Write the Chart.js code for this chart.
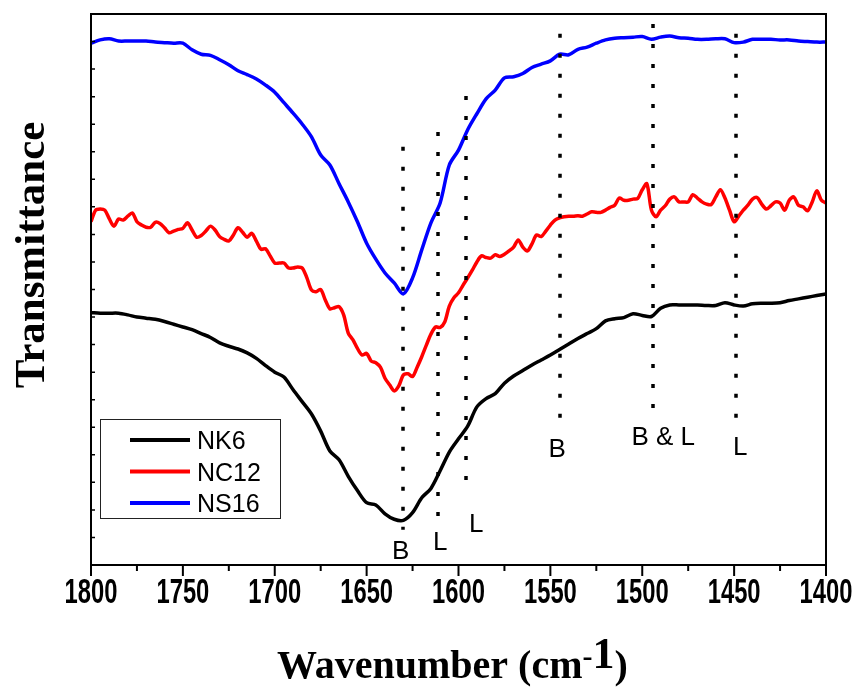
<!DOCTYPE html>
<html><head><meta charset="utf-8">
<script src="https://cdn.jsdelivr.net/npm/chart.js@4.4.0/dist/chart.umd.min.js"></script>
<style>html,body{margin:0;padding:0;background:#fff;}#wrap{width:861px;height:689px;}</style>
</head><body><div id="wrap"><canvas id="c" width="861" height="689"></canvas></div>
<script>
// ---- data (wavenumber in cm-1, transmittance in arbitrary units 0-100) ----
const wavenumbers = [1800,1795,1790,1785,1780,1775,1770,1765,1760,1755,1750,1745,1740,1735,1730,1725,1720,1715,1710,1705,1700,1695,1690,1685,1680,1675,1670,1665,1660,1655,1650,1645,1640,1635,1630,1625,1620,1615,1610,1605,1600,1595,1590,1585,1580,1575,1570,1565,1560,1555,1550,1545,1540,1535,1530,1525,1520,1515,1510,1505,1500,1495,1490,1485,1480,1475,1470,1465,1460,1455,1450,1445,1440,1435,1430,1425,1420,1415,1410,1405,1400];
const wavenumbersNC12 = [1800,1797.5,1795,1792.5,1790,1787.5,1785,1782.5,1780,1777.5,1775,1772.5,1770,1767.5,1765,1762.5,1760,1757.5,1755,1752.5,1750,1747.5,1745,1742.5,1740,1737.5,1735,1732.5,1730,1727.5,1725,1722.5,1720,1717.5,1715,1712.5,1710,1707.5,1705,1702.5,1700,1697.5,1695,1692.5,1690,1687.5,1685,1682.5,1680,1677.5,1675,1672.5,1670,1667.5,1665,1662.5,1660,1657.5,1655,1652.5,1650,1647.5,1645,1642.5,1640,1637.5,1635,1632.5,1630,1627.5,1625,1622.5,1620,1617.5,1615,1612.5,1610,1607.5,1605,1602.5,1600,1597.5,1595,1592.5,1590,1587.5,1585,1582.5,1580,1577.5,1575,1572.5,1570,1567.5,1565,1562.5,1560,1557.5,1555,1552.5,1550,1547.5,1545,1542.5,1540,1537.5,1535,1532.5,1530,1527.5,1525,1522.5,1520,1517.5,1515,1512.5,1510,1507.5,1505,1502.5,1500,1497.5,1495,1492.5,1490,1487.5,1485,1482.5,1480,1477.5,1475,1472.5,1470,1467.5,1465,1462.5,1460,1457.5,1455,1452.5,1450,1447.5,1445,1442.5,1440,1437.5,1435,1432.5,1430,1427.5,1425,1422.5,1420,1417.5,1415,1412.5,1410,1407.5,1405,1402.5,1400];
const nk6 = [45.8,45.7,45.7,45.7,45.4,45.0,44.8,44.6,44.2,43.7,
  43.2,42.7,42.0,41.3,40.3,39.7,39.2,38.5,37.5,36.2,
  35.0,34.1,31.8,29.6,27.4,24.3,20.7,19.1,16.1,13.5,
  11.3,10.9,9.3,8.3,8.1,9.5,12.2,13.9,17.1,20.5,
  22.9,25.2,28.7,30.2,31.1,33.0,34.3,35.3,36.3,37.2,
  38.1,39.1,40.1,41.1,42.0,42.9,44.3,44.7,44.9,45.6,
  45.3,45.1,46.6,47.2,47.2,47.2,47.2,47.1,47.1,47.6,
  47.2,47.0,47.4,47.5,47.5,47.6,48.0,48.3,48.6,48.9,
  49.2];
const nc12 = [62.3,64.4,64.6,64.4,62.8,61.5,62.8,62.6,63.3,63.9,
  62.3,61.7,61.3,61.3,62.2,62.0,61.2,60.3,60.6,60.9,
  61.1,62.1,60.8,59.5,59.8,60.6,61.5,60.8,59.6,59.1,
  58.8,59.9,61.2,60.4,59.5,60.2,58.8,57.3,57.4,56.1,
  54.8,54.8,54.8,53.9,53.9,54.1,53.9,52.1,49.9,49.6,
  50.0,48.1,46.5,46.7,46.9,45.4,42.1,40.9,39.3,38.1,
  38.4,37.0,36.7,35.9,33.9,32.7,31.6,32.5,34.5,34.7,
  34.2,35.9,37.8,39.9,41.9,43.2,43.1,44.1,47.0,48.5,
  49.4,50.8,52.1,53.5,55.0,56.1,55.8,55.7,56.3,56.0,
  56.4,57.0,57.7,59.0,57.7,57.0,58.3,59.9,59.6,60.6,
  61.7,62.6,63.0,63.2,63.3,63.3,63.4,63.3,63.7,64.1,
  64.0,64.0,64.4,64.9,65.3,66.6,66.2,66.2,66.4,66.5,
  68.1,69.2,64.4,63.2,64.4,65.2,66.4,66.8,65.9,65.9,
  65.9,67.2,66.6,65.9,65.5,65.4,66.8,68.1,66.6,64.4,
  62.3,63.3,64.4,65.3,66.4,66.7,65.5,64.6,65.2,65.9,
  65.7,64.4,66.2,66.8,65.3,65.0,64.3,65.9,67.9,66.2,
  65.7];
const ns16 = [94.7,95.3,95.5,95.1,95.1,95.1,95.1,94.9,94.8,94.7,
  94.7,93.5,92.7,92.5,91.7,90.8,89.7,89.0,88.2,87.1,
  85.8,83.9,82.0,80.0,77.7,74.4,72.6,69.2,65.9,62.3,
  58.4,55.5,53.0,51.2,49.2,52.1,57.2,62.1,65.7,72.6,
  75.3,79.0,81.9,84.6,86.2,88.4,88.6,89.2,90.3,90.9,
  91.5,92.7,92.6,93.6,94.0,94.7,95.3,95.6,95.7,95.8,
  95.9,95.4,95.8,96.0,95.7,95.6,95.4,95.4,95.5,95.5,
  94.8,94.9,95.4,95.4,95.4,95.3,95.3,95.1,95.0,94.9,
  94.9];
const seriesNames = ['NK6','NC12','NS16'];
const seriesColors = ['#000000','#ff0000','#0000ff'];
const xTickValues = [1800,1750,1700,1650,1600,1550,1500,1450,1400];
const xTickLabels = ['1800','1750','1700','1650','1600','1550','1500','1450','1400'];
const xMinorTickValues = [1775,1725,1675,1625,1575,1525,1475,1425];
const yTickValues = [0,5,10,15,20,25,30,35,40,45,50,55,60,65,70,75,80,85,90,95,100];
// band markers (dotted lines) and their labels
const markerWavenumbers = [1630,1611,1596,1545,1494,1449];
const markerTop = [75.9,78.6,85.1,96.4,98.2,96.4];
const markerBottom = [6.4,8.7,15.1,26.3,28.1,26.7];
const markerLabels = ['B','L','L','B','B & L','L'];
const markerLabelX = [1631.5,1610,1590.4,1546.3,1488.6,1446.7];
const markerLabelY = [2.7,4.5,7.6,21.2,23.4,21.6];

const toXY = (xs, ys) => xs.map((x, i) => ({x: x, y: ys[i]}));

const decor = {
  id: 'decor',
  afterDraw(chart) {
    const ctx = chart.ctx, xs = chart.scales.x, ys = chart.scales.y, a = chart.chartArea;
    ctx.save();
    // dotted marker lines
    ctx.strokeStyle = '#000';
    ctx.lineWidth = 3.5;
    ctx.lineCap = 'butt';
    ctx.setLineDash([4, 16]);
    markerWavenumbers.forEach((w, i) => {
      const px = Math.round(xs.getPixelForValue(w));
      ctx.beginPath();
      ctx.moveTo(px, ys.getPixelForValue(markerTop[i]));
      ctx.lineTo(px, ys.getPixelForValue(markerBottom[i]));
      ctx.stroke();
    });
    ctx.setLineDash([]);
    // marker labels
    ctx.fillStyle = '#000';
    ctx.font = '26px "Liberation Sans", Arial, sans-serif';
    ctx.textAlign = 'center';
    ctx.textBaseline = 'alphabetic';
    markerLabels.forEach((t, i) => {
      ctx.fillText(t, xs.getPixelForValue(markerLabelX[i]), ys.getPixelForValue(markerLabelY[i]) + 9.3);
    });
    // frame
    ctx.strokeStyle = '#000';
    ctx.lineWidth = 2;
    ctx.strokeRect(a.left, a.top, a.right - a.left, a.bottom - a.top);
    // x ticks
    ctx.beginPath();
    xTickValues.forEach(v => { const p = xs.getPixelForValue(v); ctx.moveTo(p, a.bottom); ctx.lineTo(p, a.bottom + 11); });
    xMinorTickValues.forEach(v => { const p = xs.getPixelForValue(v); ctx.moveTo(p, a.bottom); ctx.lineTo(p, a.bottom + 6); });
    ctx.stroke();
    // y ticks (inside)
    ctx.beginPath();
    ctx.lineWidth = 1.5;
    yTickValues.forEach(v => { const p = ys.getPixelForValue(v); ctx.moveTo(a.left, p); ctx.lineTo(a.left + 4, p); });
    ctx.stroke();
    // x tick labels (condensed bold)
    ctx.font = 'bold 35px "Liberation Sans", Arial, sans-serif';
    ctx.textAlign = 'center';
    xTickValues.forEach((v, i) => {
      ctx.save();
      ctx.translate(xs.getPixelForValue(v), a.bottom + 38);
      ctx.scale(0.68, 1);
      ctx.fillText(xTickLabels[i], 0, 0);
      ctx.restore();
    });
    // y axis title
    ctx.save();
    ctx.translate(43.5, 255);
    ctx.rotate(-Math.PI / 2);
    ctx.font = 'bold 43px "Liberation Serif", "Times New Roman", serif';
    ctx.textAlign = 'center';
    ctx.fillText('Transmittance', 0, 0);
    ctx.restore();
    // x axis title with superscript
    ctx.textAlign = 'left';
    let x0 = 277, base = 678;
    ctx.font = 'bold 40px "Liberation Serif", "Times New Roman", serif';
    const t1 = 'Wavenumber (cm';
    ctx.fillText(t1, x0, base);
    x0 += ctx.measureText(t1).width;
    ctx.font = 'bold 30px "Liberation Serif", "Times New Roman", serif';
    ctx.fillText('-', x0, base - 12);
    x0 += ctx.measureText('-').width;
    ctx.font = 'bold 44px "Liberation Serif", "Times New Roman", serif';
    ctx.fillText('1', x0, base - 10);
    x0 += ctx.measureText('1').width;
    ctx.font = 'bold 40px "Liberation Serif", "Times New Roman", serif';
    ctx.fillText(')', x0, base);
    // legend
    ctx.lineWidth = 1;
    ctx.strokeStyle = '#222';
    ctx.strokeRect(100.5, 419.5, 180, 99);
    ctx.font = '25px "Liberation Sans", Arial, sans-serif';
    seriesNames.forEach((n, i) => {
      const y = 440 + i * 31.5;
      ctx.strokeStyle = seriesColors[i];
      ctx.lineWidth = 4;
      ctx.beginPath(); ctx.moveTo(130, y); ctx.lineTo(190, y); ctx.stroke();
      ctx.fillStyle = '#000';
      ctx.fillText(n, 197, y + 9);
    });
    ctx.restore();
  }
};

new Chart(document.getElementById('c'), {
  type: 'line',
  data: {
    datasets: [
      {label: seriesNames[0], data: toXY(wavenumbers, nk6), borderColor: seriesColors[0]},
      {label: seriesNames[1], data: toXY(wavenumbersNC12, nc12), borderColor: seriesColors[1]},
      {label: seriesNames[2], data: toXY(wavenumbers, ns16), borderColor: seriesColors[2]}
    ]
  },
  options: {
    responsive: false,
    devicePixelRatio: 1,
    animation: false,
    layout: {padding: {left: 91, right: 35, top: 14, bottom: 124}},
    elements: {line: {borderWidth: 3.5, tension: 0.3, fill: false}, point: {radius: 0}},
    plugins: {legend: {display: false}, tooltip: {enabled: false}},
    scales: {
      x: {type: 'linear', reverse: true, min: 1400, max: 1800, display: false},
      y: {type: 'linear', min: 0, max: 100, display: false}
    }
  },
  plugins: [decor]
});
</script></body></html>
